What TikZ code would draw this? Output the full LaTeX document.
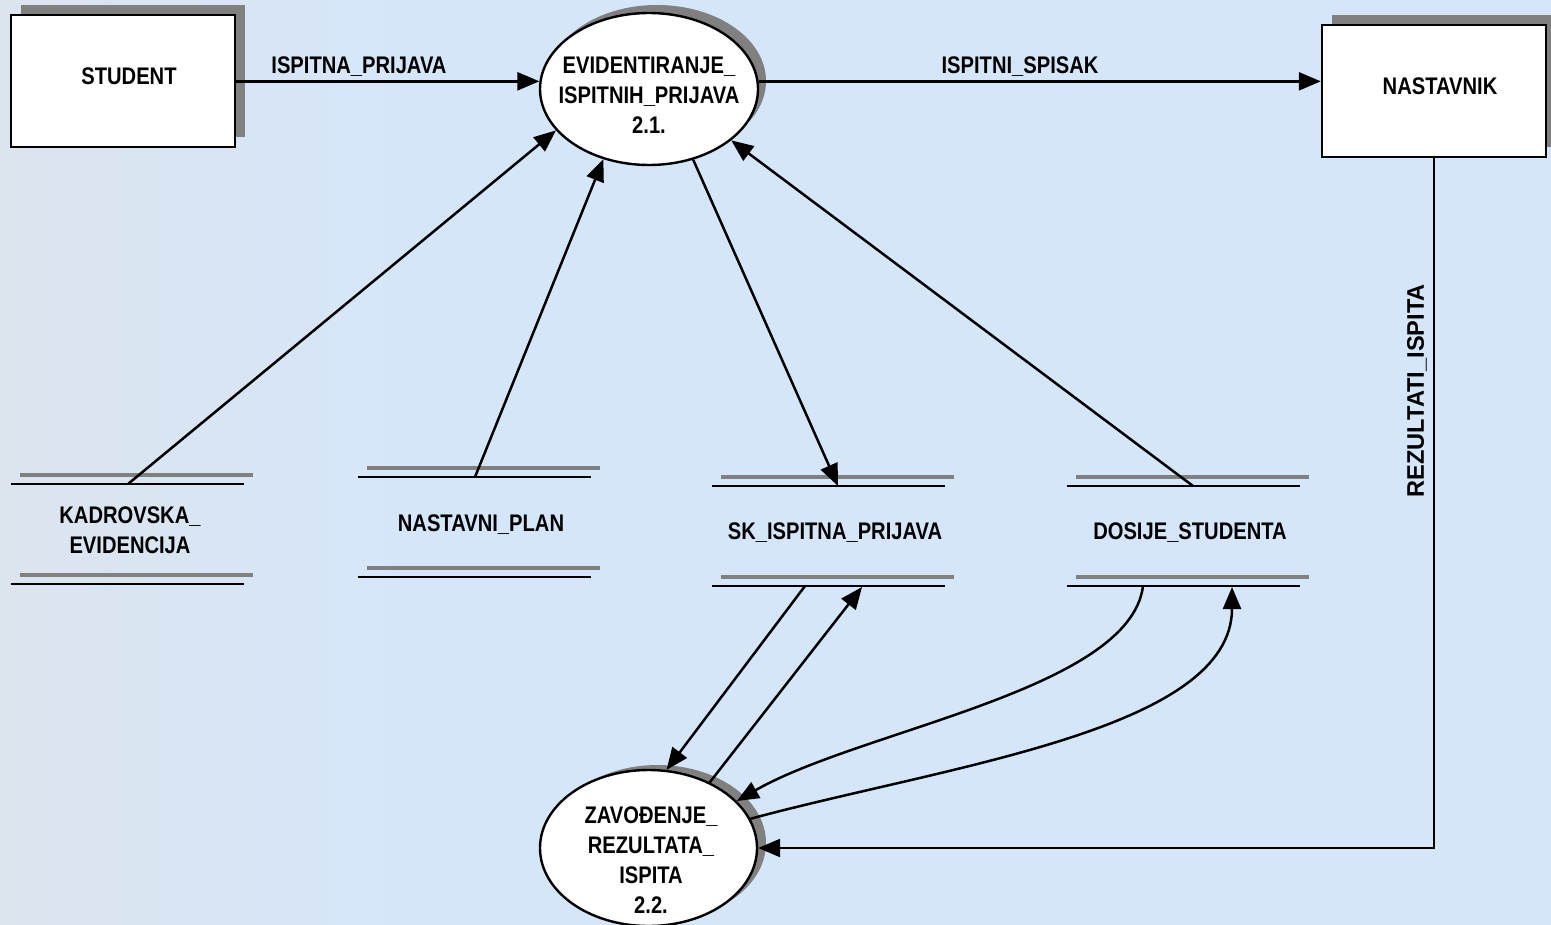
\documentclass[tikz,border=0pt]{standalone}
\usepackage{fontspec}
\setmainfont{Liberation Sans}[FakeStretch=0.84]
\usetikzlibrary{arrows.meta,shapes.geometric,shadows,calc}
\definecolor{bgblue}{HTML}{D6E6FA}
\definecolor{bgleft}{HTML}{DCE4EE}
\definecolor{shgray}{HTML}{808080}
\tikzset{
  txt/.style={font=\bfseries\fontsize{12}{15}\selectfont, align=center},
  entbox/.style={draw=black, line width=1.2pt, fill=white, minimum width=112pt, minimum height=66pt,
    general shadow={fill=shgray, shadow xshift=5pt, shadow yshift=5pt}},
  proc/.style={ellipse, draw=black, line width=1.2pt, fill=white, inner sep=0pt},
  arr/.style={line width=1.25pt, -{Triangle[length=11pt,width=9pt]}},
  grayline/.style={shgray, line width=2.2pt},
  blackline/.style={black, line width=1.3pt},
  lbl/.style={txt, inner sep=1pt}
}
\begin{document}
\begin{tikzpicture}[x=0.5pt,y=-0.5pt]
\useasboundingbox (0,0) rectangle (1551,925);
\fill[bgblue] (0,0) rectangle (1551,925);
\shade[left color=bgleft, right color=bgblue] (0,0) rectangle (420,925);

% external entities
\node[entbox] (student) at (123,81) {};
\node[txt] (studentT) at (129,76) {STUDENT};
\node[entbox] (nastavnik) at (1434,91) {};
\node[txt] (nastavnikT) at (1440,86) {NASTAVNIK};

% processes
\node[proc, minimum width=109pt, minimum height=76pt,
  general shadow={fill=shgray, shadow xshift=4pt, shadow yshift=4pt}] (e1) at (649,89) {};
\node[txt] (e1T) at (649,95) {EVIDENTIRANJE\_\\ISPITNIH\_PRIJAVA\\2.1.};
\node[proc, minimum width=108.5pt, minimum height=78pt,
  general shadow={fill=shgray, shadow xshift=4.5pt, shadow yshift=2.5pt}] (e2) at (648.5,848) {};
\node[txt] (e2T) at (651,860) {ZAVOĐENJE\_\\REZULTATA\_\\ISPITA\\2.2.};

% data stores
\foreach \x/\y in {11/484, 358/477, 712/486, 1067/486}{
  \draw[grayline] (\x+9,\y-9) -- (\x+242,\y-9);
  \draw[blackline] (\x,\y) -- (\x+233,\y);
  \draw[grayline] (\x+9,\y+91) -- (\x+242,\y+91);
  \draw[blackline] (\x,\y+100) -- (\x+233,\y+100);
}
\node[txt] (kadL) at (130,530) {KADROVSKA\_\\EVIDENCIJA};
\node[txt] (npL) at (481,525) {NASTAVNI\_PLAN};
\node[txt] (skL) at (835,533) {SK\_ISPITNA\_PRIJAVA};
\node[txt] (dosL) at (1190,533) {DOSIJE\_STUDENTA};

\coordinate (kadTop) at (128,484);
\coordinate (npTop) at (475,477);
\coordinate (skTop) at (838,486);
\coordinate (dosTop) at (1193,486);
\coordinate (skBotA) at (805,586);
\coordinate (skBotB) at (862,587);
\coordinate (dosBotA) at (1143,586);
\coordinate (dosBotB) at (1232,587);

% flows
\draw[arr] (student.east |- e1.176) -- node[lbl, above=1pt, pos=0.405] (l1) {ISPITNA\_PRIJAVA} (e1.176);
\draw[arr] (e1.4) -- node[lbl, above=1pt, pos=0.465] (l2) {ISPITNI\_SPISAK} (e1.4 -| nastavnik.west);
\draw[arr] (kadTop) -- (e1.204);
\draw[arr] (npTop) -- (e1.237.5);
\draw[arr] (e1.302) -- (skTop);
\draw[arr] (dosTop) -- (e1.328);
\draw[arr] (skBotA) -- (e2.77);
\draw[arr] (e2.47) -- (skBotB);
\draw[arr] (dosBotA) .. controls (1130,690) and (860,730) .. (e2.28);
\draw[arr] (e2.16) .. controls (950,765) and (1232,730) .. (dosBotB);
\draw[arr] (nastavnik.south) -- node[lbl, pos=0.337, left=2pt, rotate=90, anchor=south] (l3) {\scalebox{1.17}[1]{REZULTATI\_ISPITA}} (nastavnik.south |- e2.east) -- (e2.east);
\end{tikzpicture}
\end{document}
